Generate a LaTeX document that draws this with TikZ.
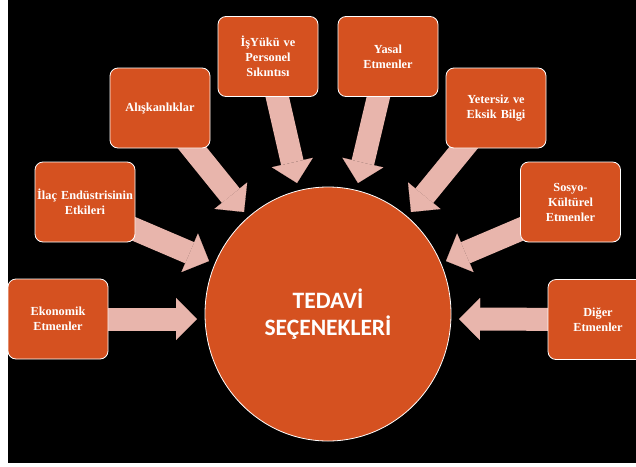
\documentclass[tikz,border=0pt]{standalone}
\usepackage{fontspec}
\setmainfont{Liberation Serif}
\newfontfamily\hubfont{Carlito}
\usetikzlibrary{arrows.meta,shapes.geometric,calc}
\pgfdeclarelayer{back}
\pgfdeclarelayer{bg}
\pgfsetlayers{back,bg,main}
\definecolor{boxor}{RGB}{213,81,32}
\definecolor{arrpink}{RGB}{232,181,172}
\begin{document}
\begin{tikzpicture}[x=1pt,y=-1pt,
  factor/.style={draw=white, line width=0.8pt, fill=boxor, rounded corners=8pt,
    minimum width=100pt, minimum height=80pt, inner sep=2pt, text=white,
    font=\bfseries\fontsize{12.3}{15}\selectfont, align=center, text width=96pt},
  hub/.style={ellipse, draw=white, line width=0.8pt, fill=boxor,
    minimum width=246pt, minimum height=254pt, inner sep=0pt, text=white,
    font=\hubfont\bfseries\fontsize{23.5}{27}\selectfont, align=center},
  flow/.style={draw=arrpink, line width=23pt,
    -{Triangle[width=42pt,length=21pt,line width=0.1pt,fill=arrpink]}},
]
\useasboundingbox (0,0) rectangle (636,466);
\clip (0,0) rectangle (636,466);
\begin{pgfonlayer}{back}
  \fill[white] (0,0) rectangle (636,466);
  \fill[black] (8,0) rectangle (636,463);
\end{pgfonlayer}

\node[hub] (hub) at (328,314) {TEDAVİ\\SEÇENEKLERİ};

\node[factor] (ekon)   at (58,319)    {Ekonomik\\Etmenler};
\node[factor] (ilac)   at (85,202)    {İlaç Endüstrisinin\\Etkileri};
\node[factor] (alis)   at (160,108)   {Alışkanlıklar};
\node[factor] (isyuku) at (268,56.5)  {İşYükü ve\\Personel\\Sıkıntısı};
\node[factor] (yasal)  at (388,56.5)  {Yasal\\Etmenler};
\node[factor] (yeter)  at (496,108)   {Yetersiz ve\\Eksik Bilgi};
\node[factor] (sosyo)  at (570.5,202) {Sosyo-\\Kültürel\\Etmenler};
\node[factor] (diger)  at (598,319.5) {Diğer\\Etmenler};

\coordinate (t-ekon)   at (197,319);
\coordinate (t-ilac)   at (209,261);
\coordinate (t-alis)   at (244,212);
\coordinate (t-isyuku) at (297,183);
\coordinate (t-yasal)  at (358,183);
\coordinate (t-yeter)  at (411,212);
\coordinate (t-sosyo)  at (446,261);
\coordinate (t-diger)  at (459,319);

\begin{pgfonlayer}{bg}
  \draw[flow] (ekon.center) -- (t-ekon);
  \draw[flow] ([yshift=-6pt]ilac.center) -- (t-ilac);
  \draw[flow] (alis.center) -- (t-alis);
  \draw[flow] (isyuku.center) -- (t-isyuku);
  \draw[flow] (yasal.center) -- (t-yasal);
  \draw[flow] (yeter.center) -- (t-yeter);
  \draw[flow] ([yshift=-6pt]sosyo.center) -- (t-sosyo);
  \draw[flow] (diger.center) -- (t-diger);
\end{pgfonlayer}
\end{tikzpicture}
\end{document}
